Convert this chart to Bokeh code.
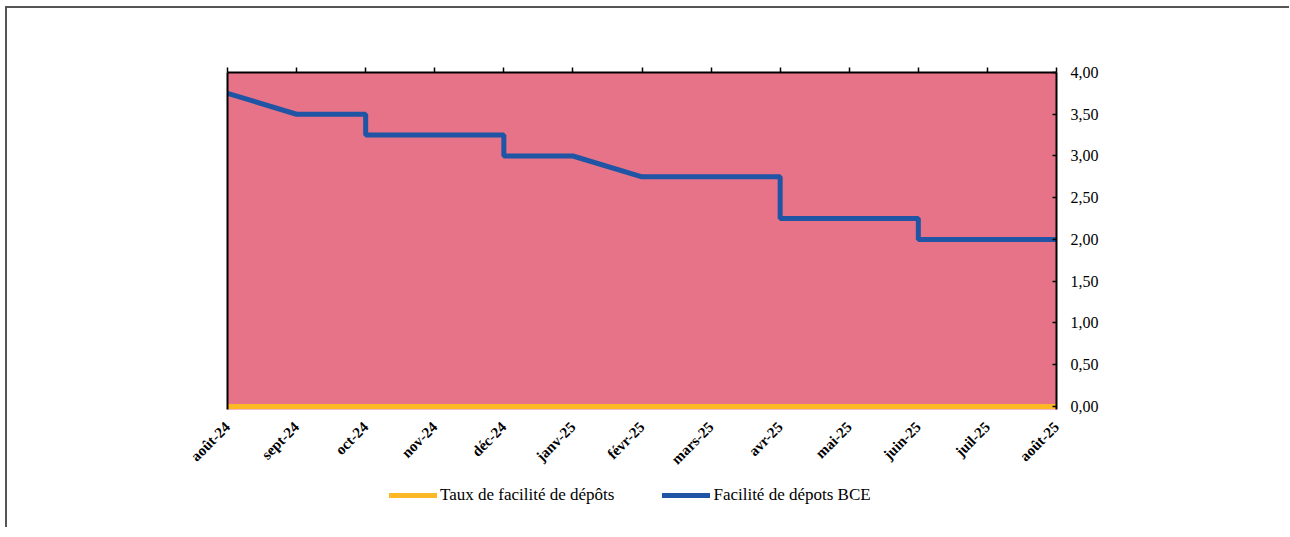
import math
from bokeh.plotting import figure
from bokeh.layouts import column
from bokeh.models import LinearAxis, FixedTicker, Range1d, Legend, LegendItem
from bokeh.embed import file_html
from bokeh.resources import INLINE

# ---- data ----
months = ["août-24", "sept-24", "oct-24", "nov-24", "déc-24", "janv-25", "févr-25",
          "mars-25", "avr-25", "mai-25", "juin-25", "juil-25", "août-25"]
month_idx = list(range(len(months)))

# Facilité de dépots BCE (x in month positions, y in %)
bce_x = [0, 1, 2, 2, 4, 4, 5, 6, 8, 8, 10, 10, 12]
bce_y = [3.75, 3.50, 3.50, 3.25, 3.25, 3.00, 3.00, 2.75, 2.75, 2.25, 2.25, 2.00, 2.00]

# Taux de facilité de dépôts
taux_x = month_idx
taux_y = [0.0] * len(months)

y_ticks = [0.0, 0.5, 1.0, 1.5, 2.0, 2.5, 3.0, 3.5, 4.0]
y_labels = ["0,00", "0,50", "1,00", "1,50", "2,00", "2,50", "3,00", "3,50", "4,00"]

series_names = ["Taux de facilité de dépôts", "Facilité de dépots BCE"]
series_colors = ["#FDB825", "#1F55A4"]
series_data = [(taux_x, taux_y), (bce_x, bce_y)]

FONT = "Liberation Serif"
W = 1282

p = figure(width=W, height=467, output_backend="svg", toolbar_location=None,
           x_range=Range1d(0, 12), y_range=Range1d(-0.036, 4),
           x_axis_location=None, y_axis_location=None,
           min_border_left=220, min_border_right=233,
           min_border_top=64, min_border_bottom=66)
p.background_fill_color = "#E67388"
p.border_fill_color = "white"
p.outline_line_color = None
p.xgrid.visible = False
p.ygrid.visible = False

# bottom axis: labels only
xb = LinearAxis(ticker=FixedTicker(ticks=month_idx),
                major_label_overrides={i: m for i, m in zip(month_idx, months)},
                major_label_orientation=math.pi / 4,
                axis_line_color=None, major_tick_line_color=None, minor_tick_line_color=None,
                major_label_text_font=FONT, major_label_text_font_style="bold",
                major_label_text_font_size="15px", major_label_text_color="#000000",
                major_label_standoff=9)
p.add_layout(xb, "below")

# top axis: line + outward ticks
xt = LinearAxis(ticker=FixedTicker(ticks=month_idx),
                major_label_text_font_size="0px", major_label_text_color=None,
                axis_line_color="black", axis_line_width=2,
                major_tick_line_color="black", major_tick_line_width=1.5,
                major_tick_in=0, major_tick_out=5, minor_tick_line_color=None)
p.add_layout(xt, "above")

# left axis: line only
yl = LinearAxis(ticker=FixedTicker(ticks=[]),
                major_label_text_font_size="0px", major_label_text_color=None,
                axis_line_color="black", axis_line_width=2,
                major_tick_line_color=None, minor_tick_line_color=None)
p.add_layout(yl, "left")

# right axis with labels
yr = LinearAxis(ticker=FixedTicker(ticks=y_ticks),
                major_label_overrides={t: l for t, l in zip(y_ticks, y_labels)},
                axis_line_color="black", axis_line_width=2,
                major_tick_line_color="black", major_tick_line_width=1.5,
                major_tick_in=4, major_tick_out=0, minor_tick_line_color=None,
                major_label_text_font=FONT, major_label_text_font_size="16px",
                major_label_text_color="#000000", major_label_standoff=14)
p.add_layout(yr, "right")

for (xs, ys), col in zip(series_data, series_colors):
    p.line(xs, ys, line_color=col, line_width=5)

# legend strip (separate figure so the legend is not clipped); its series are out of view
lg = figure(width=W, height=52, output_backend="svg", toolbar_location=None,
            x_range=Range1d(0, 12), y_range=Range1d(100, 101),
            x_axis_location=None, y_axis_location=None,
            min_border_left=0, min_border_right=0, min_border_top=0, min_border_bottom=0)
lg.outline_line_color = None
lg.background_fill_color = "white"
lg.border_fill_color = "white"
lg.xgrid.visible = False
lg.ygrid.visible = False
items = []
for name, col, (xs, ys) in zip(series_names, series_colors, series_data):
    r = lg.line(xs, ys, line_color=col, line_width=5, line_cap="round")
    items.append(LegendItem(label=name, renderers=[r]))
legend = Legend(items=items, orientation="horizontal", location=(162, 22),
                padding=0, margin=0, spacing=48,
                glyph_width=48, glyph_height=20, label_height=20, label_standoff=3,
                label_text_font=FONT, label_text_font_size="17px",
                label_text_color="#000000",
                border_line_color=None, background_fill_alpha=0)
lg.add_layout(legend)

layout = column(p, lg, spacing=0)
layout.styles = {"margin-top": "6px", "margin-left": "5px",
                 "border-top": "2px solid #555555", "border-left": "2px solid #555555"}

open("out.html", "w").write(file_html(layout, INLINE))
